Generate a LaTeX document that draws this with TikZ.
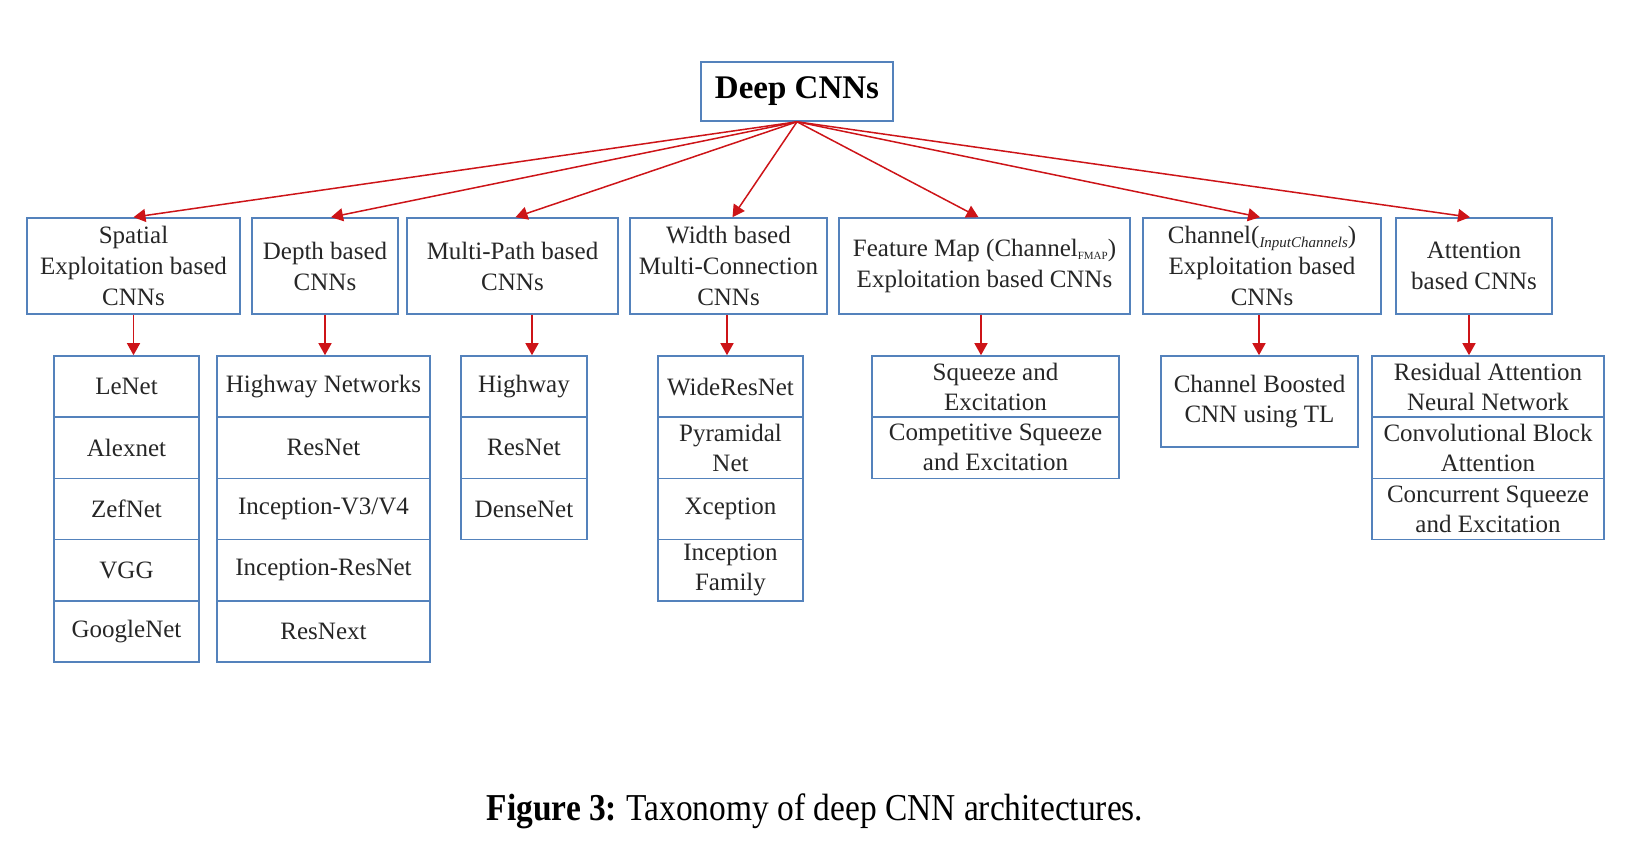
\documentclass[tikz,border=0pt]{standalone}
\usepackage{fontspec}
\setmainfont{Liberation Serif}
\usetikzlibrary{arrows.meta}
\definecolor{boxblue}{RGB}{84,130,188}
\definecolor{arrred}{RGB}{205,20,24}
\newcommand\bfnt{\fontsize{25}{30}\selectfont}
\begin{document}
\begin{tikzpicture}[x=1pt,y=-1pt,
  box/.style={draw=boxblue, line width=1.6pt, align=center, inner sep=0pt, font=\bfnt, text=black!85},
  arr/.style={draw=arrred, line width=1.5pt, -{Triangle[width=13pt,length=12pt]}},
]
\useasboundingbox (0,0) rectangle (1642,864);
% root
\node[box, minimum width=192pt, minimum height=59pt, font=\fontsize{33}{36}\selectfont\bfseries, text=black] (root) at (797,91.5) {Deep CNNs};
% level 2
\node[box, minimum width=213pt, minimum height=96pt, font=\fontsize{25}{31}\selectfont] (sp) at (133.5,266) {Spatial\\Exploitation based\\CNNs};
\node[box, minimum width=146pt, minimum height=96pt, font=\fontsize{25}{31}\selectfont] (dp) at (325,266) {Depth based\\CNNs};
\node[box, minimum width=211pt, minimum height=96pt, font=\fontsize{25}{31}\selectfont] (mp) at (512.5,266) {Multi-Path based\\CNNs};
\node[box, minimum width=197pt, minimum height=96pt, font=\fontsize{25}{31}\selectfont] (wd) at (728.5,266) {Width based\\Multi-Connection\\CNNs};
\node[box, minimum width=291pt, minimum height=96pt, font=\fontsize{25}{31}\selectfont] (fm) at (984.5,266) {Feature Map (Channel{\fontsize{11}{11}\selectfont\raisebox{-3pt}{FMAP}})\\Exploitation based CNNs};
\node[box, minimum width=238pt, minimum height=96pt, font=\fontsize{25}{31}\selectfont] (ch) at (1262,266) {Channel({\fontsize{15}{15}\selectfont\itshape\raisebox{-4pt}{InputChannels}})\\Exploitation based\\CNNs};
\node[box, minimum width=156pt, minimum height=96pt, font=\fontsize{25}{31}\selectfont] (at) at (1474,266) {Attention\\based CNNs};
% level 3: spatial
\node[box, minimum width=145pt, minimum height=61.2pt] (sp1) at (126.5,386.6) {LeNet};
\node[box, minimum width=145pt, minimum height=61.2pt] (sp2) at (126.5,447.8) {Alexnet};
\node[box, minimum width=145pt, minimum height=61.2pt] (sp3) at (126.5,509.0) {ZefNet};
\node[box, minimum width=145pt, minimum height=61.2pt] (sp4) at (126.5,570.2) {VGG};
\node[box, minimum width=145pt, minimum height=61.2pt] (sp5) at (126.5,631.4) {GoogleNet};
% depth
\node[box, minimum width=213pt, minimum height=61.2pt] (dp1) at (323.5,386.6) {Highway Networks};
\node[box, minimum width=213pt, minimum height=61.2pt] (dp2) at (323.5,447.8) {ResNet};
\node[box, minimum width=213pt, minimum height=61.2pt] (dp3) at (323.5,509.0) {Inception-V3/V4};
\node[box, minimum width=213pt, minimum height=61.2pt] (dp4) at (323.5,570.2) {Inception-ResNet};
\node[box, minimum width=213pt, minimum height=61.2pt] (dp5) at (323.5,631.4) {ResNext};
% multi-path
\node[box, minimum width=126pt, minimum height=61.2pt] (mp1) at (524,386.6) {Highway};
\node[box, minimum width=126pt, minimum height=61.2pt] (mp2) at (524,447.8) {ResNet};
\node[box, minimum width=126pt, minimum height=61.2pt] (mp3) at (524,509.0) {DenseNet};
% width
\node[box, minimum width=145pt, minimum height=61.2pt] (wd1) at (730.5,386.6) {WideResNet};
\node[box, minimum width=145pt, minimum height=61.2pt] (wd2) at (730.5,447.8) {Pyramidal\\Net};
\node[box, minimum width=145pt, minimum height=61.2pt] (wd3) at (730.5,509.0) {Xception};
\node[box, minimum width=145pt, minimum height=61.2pt] (wd4) at (730.5,570.2) {Inception\\Family};
% feature map
\node[box, minimum width=247pt, minimum height=61.2pt] (fm1) at (995.5,386.6) {Squeeze and\\Excitation};
\node[box, minimum width=247pt, minimum height=61.2pt] (fm2) at (995.5,447.8) {Competitive Squeeze\\and Excitation};
% channel
\node[box, minimum width=197pt, minimum height=91pt] (ch1) at (1259.5,401.5) {Channel Boosted\\CNN using TL};
% attention
\node[box, minimum width=232pt, minimum height=61.2pt] (at1) at (1488,386.6) {Residual Attention\\Neural Network};
\node[box, minimum width=232pt, minimum height=61.2pt] (at2) at (1488,447.8) {Convolutional Block\\Attention};
\node[box, minimum width=232pt, minimum height=61.2pt] (at3) at (1488,509.0) {Concurrent Squeeze\\and Excitation};
% root arrows
\draw[arr] (root.south) -- (sp.north);
\draw[arr] (root.south) -- ([xshift=6pt]dp.north);
\draw[arr] (root.south) -- ([xshift=3pt]mp.north);
\draw[arr] (root.south) -- ([xshift=4pt]wd.north);
\draw[arr] (root.south) -- ([xshift=-6pt]fm.north);
\draw[arr] (root.south) -- ([xshift=-2pt]ch.north);
\draw[arr] (root.south) -- ([xshift=-4pt]at.north);
% down arrows
\draw[arr] (sp.south) -- (sp.south |- sp1.north);
\draw[arr] (dp.south) -- (dp.south |- dp1.north);
\draw[arr] ([xshift=19.5pt]mp.south) -- ([xshift=19.5pt]mp.south |- mp1.north);
\draw[arr] ([xshift=-1.5pt]wd.south) -- ([xshift=-1.5pt]wd.south |- wd1.north);
\draw[arr] ([xshift=-3.5pt]fm.south) -- ([xshift=-3.5pt]fm.south |- fm1.north);
\draw[arr] ([xshift=-3pt]ch.south) -- ([xshift=-3pt]ch.south |- ch1.north);
\draw[arr] ([xshift=-5pt]at.south) -- ([xshift=-5pt]at.south |- at1.north);
% caption
\node[inner sep=0pt, anchor=base] (cap) at (815,820) {\scalebox{0.88}[1]{\fontsize{38}{40}\selectfont\textbf{Figure 3:}\hspace{-2pt} Taxonomy of deep CNN architectures.}};
\end{tikzpicture}
\end{document}
